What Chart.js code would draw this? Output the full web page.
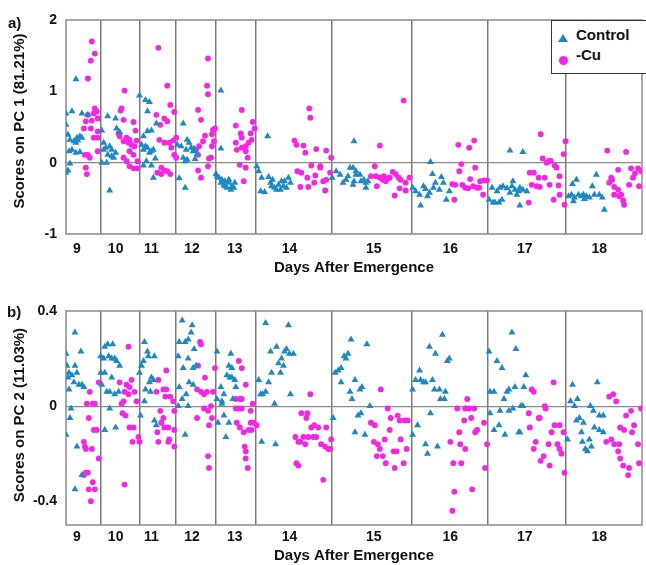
<!DOCTYPE html>
<html>
<head>
<meta charset="utf-8">
<script src="https://cdn.jsdelivr.net/npm/chart.js@4.4.1/dist/chart.umd.min.js"></script>
<style>
  body { margin: 0; background: #fff; width: 646px; height: 565px; overflow: hidden; position: relative;
         font-family: 'Liberation Sans', Arial, sans-serif; font-weight: bold; color: #111; }
  canvas { position: absolute; left: 0; }
  #pcA { top: 0; }
  #pcB { top: 282px; }
  .tag { position: absolute; font-size: 15px; line-height: 15px; }
  .ytitle { position: absolute; font-size: 15px; line-height: 15px; white-space: nowrap;
            transform: translate(-50%, -50%) rotate(-90deg); }
  #legend { position: absolute; left: 551px; top: 20px; width: 110px; height: 52px;
            border: 1.5px solid #333; background: #fff; }
  #legend .txt { position: absolute; left: 24px; font-size: 15px; line-height: 15px; }
  #legend .tri { position: absolute; left: 6px; top: 13px; width: 0; height: 0;
                 border-left: 5px solid transparent; border-right: 5px solid transparent; border-bottom: 8px solid #1a8ac6; }
  #legend .dot { position: absolute; left: 7px; top: 35px; width: 9px; height: 9px; border-radius: 50%; background: #fb22e8; }
</style>
</head>
<body>
<canvas id="pcA" width="646" height="282"></canvas>
<canvas id="pcB" width="646" height="283"></canvas>

<div class="tag" style="left:8px;top:15px">a)</div>
<div class="tag" style="left:7px;top:304px">b)</div>
<div class="ytitle" style="left:18px;top:121px">Scores on PC 1 (81.21%)</div>
<div class="ytitle" style="left:18px;top:415px">Scores on PC 2 (11.03%)</div>
<div id="legend">
  <span class="tri"></span><span class="txt" style="top:6px">Control</span>
  <span class="dot"></span><span class="txt" style="top:26px">-Cu</span>
</div>

<script>
// days after emergence, x axis is the running sample number
const dayNames = ['9', '10', '11', '12', '13', '14', '15', '16', '17', '18'];
const dayLabelAt = [5.5, 25, 43, 63.5, 85, 112.5, 155, 193.5, 231, 268.5];
const dayBreaks = [17.5, 37, 55.5, 75.5, 95.5, 134, 174, 212.5, 251.5];
const sampleRange = [0, 290];

const pc1Range = [-1, 2];
const pc1Ticks = [-1, 0, 1, 2];
const pc2Range = [-0.5, 0.4];
const pc2Ticks = [-0.4, 0, 0.4];

// [sample, score]
const pc1Control = [
  [0,0.69],[3,0.72],[0,0.53],[5,1.17],[8,0.69],[11,0.67],[1,0.39],[2,0.32],[4,0.30],[5.5,0.35],[7,0.37],[8,0.35],[5,0.28],[6,0.31],[1.5,0.16],[3,0.18],[5,0.14],[7,0.15],[2,-0.01],[1,-0.11],[0,-0.14],
  [21,0.65],[25,0.62],[18,0.45],[27,0.43],[19,0.28],[20,0.21],[22,0.23],[23,0.18],[25,0.14],[21,0.11],[23,0.09],[18,0.00],[20.5,0.00],[22,-0.39],[25.5,0.48],[19,0.18],[24,0.07],
  [37,0.94],[40,0.88],[42,0.85],[41,0.72],[45.5,0.55],[41,0.44],[43,0.45],[39,0.37],[38,0.25],[40,0.23],[41,0.21],[43,0.16],[44,0.18],[42,0.14],[39,0.18],[45,0.06],[43,-0.04],[39,-0.04],[44,-0.21],[40.5,0.02],
  [59,0.55],[56,0.25],[58,0.23],[61,0.32],[62,0.28],[60.5,0.18],[63,0.21],[64,0.16],[59,0.07],[61,0.04],[60,0.02],[57,-0.22],[60,-0.35],[64.5,0.20],[66,0.12],[65,0.05],
  [78,1.01],[78,0.20],[75.5,-0.16],[77,-0.21],[78.5,-0.24],[80,-0.26],[82,-0.28],[83.5,-0.33],[79.5,-0.31],[81,-0.35],[83,-0.38],[84.5,-0.35],[78,-0.28],[85,-0.28],[76,-0.19],[80,-0.33],[82,-0.24],
  [101.5,0.37],[96,-0.05],[97,-0.12],[98.5,-0.21],[102,-0.20],[98,-0.40],[100,-0.41],[103.5,-0.33],[105,-0.35],[107,-0.31],[108,-0.38],[109.5,-0.33],[111,-0.35],[112,-0.21],[113,-0.28],[110,-0.26],[106,-0.38],[108.5,-0.26],[103,-0.28],[104,-0.24],
  [134,-0.21],[136,-0.12],[138,-0.17],[139.5,-0.28],[141,-0.24],[143,-0.07],[145,0.30],[146,-0.17],[144.5,-0.31],[144.5,-0.07],[146,-0.12],[148,-0.17],[148.5,-0.26],[150,-0.24],[151,-0.28],[152,-0.26],[145,-0.26],[151,-0.35],[142,-0.19],
  [183.5,0.01],[184.5,-0.16],[174.5,-0.35],[176,-0.40],[178,-0.45],[178.5,-0.60],[180,-0.33],[182,-0.47],[183,-0.42],[185,-0.35],[186,-0.28],[188,-0.38],[189,-0.20],[190,-0.28],[191.5,-0.52],[193,-0.40],[181,-0.37],
  [213,-0.52],[215,-0.56],[216,-0.56],[218,-0.56],[214.5,-0.35],[217,-0.40],[218.5,-0.35],[220,-0.33],[222,-0.36],[223.5,-0.42],[225,-0.26],[226,-0.38],[228,-0.40],[228.5,-0.35],[230,-0.38],[232,-0.40],[228.5,-0.60],[219.5,-0.52],[223.5,0.17],[230,0.15],[227,-0.45],[224.5,-0.33],
  [255,-0.30],[257,-0.24],[267,-0.17],[253,-0.47],[254.5,-0.45],[256,-0.49],[258,-0.45],[259.5,-0.47],[260.5,-0.45],[262,-0.47],[263.5,-0.49],[265,-0.33],[266,-0.45],[268.5,-0.45],[270,-0.49],[271,-0.66],[255.5,-0.54],[261,-0.51]
];
const pc1Cu = [
  [13,1.70],[14.5,1.53],[12.5,1.43],[11,1.18],[14.5,0.76],[15.5,0.72],[14,0.69],[11,0.67],[10,0.58],[13,0.59],[16,0.62],[9,0.48],[12.5,0.48],[16,0.44],[14,0.35],[16,0.35],[9.5,0.11],[11,0.11],[12,0.07],[10,-0.07],[10.5,-0.16],[16,0.16],
  [29.5,1.01],[28,0.76],[27.5,0.73],[29,0.60],[34,0.57],[35,0.45],[26.5,0.41],[27,0.37],[30.5,0.35],[32,0.32],[29,0.30],[31.5,0.28],[33,0.25],[34.5,0.23],[32,0.16],[34,0.11],[29,0.07],[30.5,0.02],[32,-0.05],[34,-0.08],[36,-0.08],[36,0.02],[35.5,0.31],
  [46.5,1.61],[51,1.08],[52.5,0.81],[54.5,0.71],[45.5,0.67],[49.5,0.62],[51,0.58],[47.5,0.53],[47,0.32],[49.5,0.28],[52,0.28],[54,0.31],[55.5,0.35],[53,0.21],[54.5,0.11],[55.5,0.07],[48,-0.07],[49.5,-0.11],[51,-0.12],[52.5,-0.16],[48,-0.16],[46,-0.14],
  [71.5,1.46],[71,1.08],[71.5,0.96],[66.5,0.74],[68,0.60],[70,0.38],[69,0.30],[67,0.23],[65.5,0.18],[66.5,0.11],[66.5,-0.11],[68,-0.21],[72,0.06],[71.5,-0.05],[74,0.46],[74.5,0.30],[73.5,0.23],[73,0.07],[73.5,0.40],[75,0.48],
  [88.5,0.74],[94,0.57],[95,0.48],[85.5,0.52],[88,0.41],[88.5,0.35],[93,0.41],[93.5,0.32],[92,0.28],[90.5,0.23],[86,0.18],[88.5,0.21],[91.5,0.07],[87.5,-0.03],[90.5,-0.07],[89.5,-0.26],[85.5,0.28],[90.5,0.16],
  [122.5,0.76],[123,0.63],[115,0.31],[116,0.25],[119.5,0.24],[120.5,0.14],[126,0.19],[131,0.17],[133.5,0.07],[123.5,-0.04],[128,-0.05],[116.5,-0.12],[118.5,-0.14],[121.5,-0.21],[125.5,-0.18],[129.5,-0.26],[131,-0.24],[118,-0.34],[122,-0.34],[125,-0.28],[130.5,-0.39],[128,-0.07],[133,-0.14],
  [170,0.87],[158,0.24],[155.5,-0.05],[153.5,-0.19],[156,-0.19],[158,-0.21],[159.5,-0.24],[161,-0.26],[163,-0.21],[164.5,-0.13],[166,-0.16],[167.5,-0.21],[168.5,-0.24],[171,-0.28],[173,-0.21],[156.5,-0.33],[165.5,-0.46],[168,-0.36],[171,-0.39],[162,-0.22],[160,-0.19],
  [197.5,0.25],[205.5,0.31],[203,0.21],[199,-0.02],[206,-0.07],[198,-0.12],[203.5,-0.23],[194.5,-0.30],[196,-0.31],[199.5,-0.31],[201,-0.35],[202.5,-0.36],[205,-0.33],[207,-0.35],[208.5,-0.26],[210.5,-0.25],[212,-0.25],[210,-0.45],[195.5,-0.52],[208,-0.35],
  [239,0.40],[251.5,0.30],[250.5,0.12],[240,0.06],[243,0.02],[244,0.03],[246,-0.04],[247,-0.07],[233.5,-0.14],[235.5,-0.14],[238,-0.21],[241,-0.21],[237,-0.33],[238.5,-0.34],[243.5,-0.31],[248,-0.32],[248.5,-0.19],[234.5,-0.31],[245.5,-0.52],[248.5,-0.45],[251,-0.59],[233,-0.56],[242,0.00],
  [272.5,0.17],[282,0.15],[278,-0.10],[284.5,-0.08],[288,-0.08],[274.5,-0.21],[275,-0.24],[273.5,-0.28],[276,-0.34],[278,-0.38],[279.5,-0.45],[280.5,-0.53],[281,-0.59],[283.5,-0.31],[285.5,-0.21],[288.5,-0.33],[276,-0.45],[278.5,-0.47],[289.5,-0.12],[286.5,-0.15]
];
const pc2Control = [
  [0,0.22],[4.5,0.31],[7.5,0.23],[0.5,0.17],[4.5,0.17],[1.5,0.14],[3,0.13],[5.5,0.14],[1,0.12],[4,0.10],[6.5,0.09],[8,0.09],[1.5,0.07],[9,0.08],[2.5,-0.01],[2,-0.05],[0,-0.12],[5.5,-0.17],[8,-0.29],[4.5,-0.35],
  [19.5,0.25],[21,0.26],[23.5,0.26],[17.5,0.21],[19,0.20],[21.5,0.21],[23,0.20],[24.5,0.20],[25.5,0.19],[27,0.17],[17.5,0.14],[19.5,0.14],[18,0.09],[23,0.12],[20.5,0.06],[22,0.06],[24.5,0.05],[26.5,0.06],[22,-0.01],[19.5,-0.10],[25,-0.09],
  [39.5,0.27],[41,0.23],[41.5,0.21],[44.5,0.21],[39,0.19],[38,0.17],[37,0.14],[43,0.12],[42,0.10],[44,0.11],[42.5,0.06],[39.5,0.02],[37.5,-0.04],[44.5,-0.06],[45.5,-0.08],[40,0.07],
  [58.5,0.36],[63.5,0.34],[57,0.27],[60,0.27],[61.5,0.28],[63,0.31],[56.5,0.21],[61.5,0.20],[64.5,0.24],[65.5,0.17],[59,0.16],[64,0.16],[57,0.08],[62,0.10],[64,0.09],[60.5,0.05],[58.5,0.03],[61.5,0.00],[56.5,0.00],[60,-0.12],
  [76,0.23],[83,0.22],[82,0.17],[83.5,0.16],[81,0.13],[82.5,0.12],[83.5,0.12],[85,0.11],[85.5,0.08],[78,0.08],[79.5,0.05],[76,0.03],[78.5,0.02],[84,0.03],[78.5,0.01],[76.5,-0.07],[79.5,-0.04],[82,-0.07],[80.5,-0.13],
  [100.5,0.35],[112,0.34],[97,0.11],[102,0.10],[103.5,0.14],[108,0.14],[103,0.23],[106,0.25],[111,0.24],[110,0.23],[112.5,0.22],[114.5,0.22],[108.5,0.20],[107,0.18],[109.5,0.17],[99,0.05],[100.5,0.06],[98,0.05],[113,0.05],[105,0.01],[98.5,-0.15],[105.5,-0.16],
  [135.5,0.14],[137,0.15],[138.5,0.16],[140,0.21],[141,0.20],[142,0.22],[143.5,0.28],[151.5,0.26],[138.5,0.10],[143,0.06],[144,0.03],[145.5,0.11],[148,0.07],[149,0.08],[153,0.00],[147,-0.04],[148.5,-0.03],[145.5,-0.11],[150.5,-0.12],[134.5,-0.05],
  [189.5,0.30],[183,0.25],[186,0.22],[192,0.19],[193,0.20],[178,0.15],[176,0.11],[174.5,0.07],[178.5,0.11],[180,0.10],[181,0.10],[184.5,0.11],[185.5,0.07],[188,0.07],[191,0.06],[188.5,0.03],[190.5,0.03],[183.5,-0.03],[177,-0.08],[174.5,-0.12],[181,-0.16],[182,-0.20],[187,-0.17],
  [224.5,0.31],[226.5,0.24],[213,0.23],[217,0.19],[219.5,0.16],[231.5,0.13],[213.5,0.06],[215.5,0.06],[223,0.07],[226,0.08],[230.5,0.08],[222,0.06],[220.5,0.03],[229,0.00],[230,0.00],[213.5,-0.03],[218.5,-0.02],[223,-0.02],[225,-0.01],[218,-0.08],[215.5,-0.10],[221,-0.12],[228,-0.11],[228.5,-0.11],
  [255,0.09],[267.5,0.10],[254,0.02],[257.5,0.03],[256,0.00],[264,0.00],[265.5,-0.02],[268.5,-0.04],[270.5,-0.04],[258.5,-0.05],[257,-0.06],[260.5,-0.07],[266,-0.09],[268.5,-0.10],[270.5,-0.11],[252.5,-0.14],[259.5,-0.11],[260,-0.15],[263.5,-0.14],[264.5,-0.17],[261.5,-0.18],[262.5,-0.19]
];
const pc2Cu = [
  [12,0.06],[10.5,0.01],[13.5,0.01],[14.5,0.01],[16.5,0.10],[11.5,-0.05],[14,-0.10],[15.5,-0.10],[16.5,-0.22],[9,-0.15],[9.5,-0.17],[10,-0.18],[13,-0.18],[9,-0.29],[10,-0.28],[11,-0.28],[13.5,-0.32],[11.5,-0.35],[14.5,-0.35],[12.5,-0.40],
  [31.5,0.25],[27,0.10],[29,0.02],[30.5,0.09],[32,0.08],[33,0.11],[34.5,0.06],[35.5,0.02],[31.5,0.05],[29.5,0.06],[28,0.01],[28.5,-0.03],[30,-0.04],[32,-0.09],[34,-0.09],[33.5,-0.15],[36.5,-0.13],[37,-0.15],[29.5,-0.33],
  [50.5,0.15],[46.5,0.11],[49,0.07],[50.5,0.07],[45.5,0.06],[50,0.04],[52.5,0.04],[54,0.02],[47.5,-0.02],[54.5,-0.02],[49,-0.05],[48,-0.07],[51.5,-0.09],[54.5,-0.10],[46,-0.11],[49.5,-0.09],[52,-0.14],[51.5,-0.15],[46.5,-0.15],[54.5,-0.17],
  [67.5,0.27],[68,0.26],[66.5,0.17],[70,0.12],[66,0.07],[68,0.06],[69.5,0.05],[71,0.06],[69.5,-0.01],[71.5,-0.02],[66,-0.05],[71.5,-0.21],[72,-0.26],[75,0.16],[74,0.06],[73,0.00],[73.5,-0.05],[72,-0.08],
  [87,0.19],[88.5,0.16],[90.5,0.09],[85.5,0.03],[87.5,0.03],[88.5,0.03],[88.5,-0.01],[85.5,-0.01],[87,-0.01],[93,-0.02],[94,0.01],[93,-0.07],[94.5,-0.07],[86,-0.07],[87.5,-0.09],[89.5,-0.11],[92,-0.10],[93.5,-0.10],[90,-0.17],[90.5,-0.19],[90.5,-0.22],[91.5,-0.26],[96,-0.08],
  [123,0.05],[118.5,-0.03],[121.5,-0.03],[121,-0.05],[125,-0.08],[123.5,-0.09],[127,-0.09],[131,-0.09],[115.5,-0.13],[119.5,-0.13],[122,-0.13],[124.5,-0.13],[126,-0.13],[118,-0.15],[117,-0.15],[120.5,-0.16],[128.5,-0.16],[130.5,-0.17],[132,-0.18],[133,-0.18],[116,-0.24],[117,-0.25],[129.5,-0.31],[133.5,-0.14],
  [158.5,0.07],[162,-0.01],[167,-0.04],[168,-0.06],[170.5,-0.06],[172,-0.06],[153.5,-0.07],[155.5,-0.08],[163.5,-0.05],[163,-0.10],[168.5,-0.14],[155,-0.15],[157,-0.16],[160.5,-0.14],[158,-0.18],[156.5,-0.21],[159.5,-0.21],[161,-0.24],[165,-0.19],[166.5,-0.19],[165.5,-0.26],[170,-0.24],[171.5,-0.18],
  [197,-0.01],[201,-0.01],[203,-0.01],[205.5,-0.01],[202,0.03],[200.5,-0.06],[204,-0.05],[207,-0.10],[206,-0.11],[210.5,-0.07],[212,-0.16],[193.5,-0.15],[198,-0.11],[198.5,-0.16],[201,-0.18],[195,-0.24],[199,-0.24],[211,-0.26],[195.5,-0.36],[204.5,-0.35],[194.5,-0.44],
  [245.5,0.10],[234.5,0.07],[235.5,0.06],[241,0.00],[241.5,-0.01],[233,-0.03],[238,-0.05],[238.5,-0.05],[233.5,-0.09],[246,-0.08],[248.5,-0.08],[244.5,-0.11],[250.5,-0.11],[236.5,-0.15],[243,-0.16],[247.5,-0.16],[248.5,-0.18],[249.5,-0.20],[240.5,-0.21],[235.5,-0.18],[239,-0.23],[243.5,-0.25],[251,-0.28],
  [273.5,0.04],[275.5,0.05],[277,0.02],[284.5,-0.02],[282,-0.04],[286,-0.08],[279,-0.09],[281,-0.10],[285,-0.11],[274.5,-0.14],[272,-0.15],[276,-0.16],[278.5,-0.16],[278,-0.19],[279,-0.22],[280.5,-0.25],[283.5,-0.26],[283,-0.29],[288.5,-0.24],[288,-0.16],[289.5,-0.01]
];

const BLUE = '#1a8ac6';
const PINK = '#fb22e8';
const HIDDEN = 'rgba(0,0,0,0)';

Chart.defaults.font.family = "'Liberation Sans', Arial, sans-serif";
Chart.defaults.color = '#111';

// grey box round the plot area
const frame = {
  id: 'frame',
  beforeDatasetsDraw(chart) {
    const { ctx, chartArea: a } = chart;
    ctx.save();
    ctx.strokeStyle = '#8c8c8c';
    ctx.lineWidth = 1.5;
    ctx.strokeRect(a.left, a.top, a.right - a.left, a.bottom - a.top);
    ctx.restore();
  }
};

function toXY(list) {
  return list.map(p => ({ x: p[0], y: p[1] }));
}

function makePanel(id, control, cu, yRange, yTicks, lay) {
  return new Chart(document.getElementById(id), {
    type: 'scatter',
    data: {
      datasets: [
        { label: 'Control', data: toXY(control), pointStyle: 'triangle', pointRadius: 4,
          backgroundColor: BLUE, borderWidth: 0 },
        { label: '-Cu', data: toXY(cu), pointStyle: 'circle', pointRadius: 2.9,
          backgroundColor: PINK, borderWidth: 0 }
      ]
    },
    options: {
      responsive: false,
      animation: false,
      events: [],
      layout: { padding: { top: lay.top, bottom: lay.bottom, left: 0, right: 0 } },
      plugins: { legend: { display: false }, tooltip: { enabled: false } },
      scales: {
        x: {
          type: 'linear',
          min: sampleRange[0],
          max: sampleRange[1],
          afterBuildTicks: s => {
            s.ticks = [...dayBreaks, ...dayLabelAt].sort((a, b) => a - b).map(v => ({ value: v }));
          },
          afterFit: s => { s.height = lay.xh; },
          border: { display: false },
          grid: {
            color: c => (c.tick && dayBreaks.includes(c.tick.value)) ? '#7a7a7a' : HIDDEN,
            lineWidth: 1.5,
            drawTicks: false
          },
          ticks: {
            autoSkip: false,
            maxRotation: 0,
            padding: lay.tickPad,
            font: { size: 14, weight: 'bold' },
            callback: v => {
              const i = dayLabelAt.indexOf(v);
              return i < 0 ? '' : dayNames[i];
            }
          },
          title: {
            display: true,
            text: 'Days After Emergence',
            font: { size: 15, weight: 'bold' },
            padding: { top: 0, bottom: 0 }
          }
        },
        y: {
          min: yRange[0],
          max: yRange[1],
          afterBuildTicks: s => { s.ticks = yTicks.map(v => ({ value: v })); },
          afterFit: s => { s.width = 66; },
          border: { display: false },
          grid: {
            color: c => (c.tick && c.tick.value === 0) ? '#8a8a8a' : HIDDEN,
            lineWidth: 1.2,
            drawTicks: false
          },
          ticks: {
            padding: 9,
            font: { size: 14, weight: 'bold' },
            callback: v => String(v)
          }
        }
      }
    },
    plugins: [frame]
  });
}

makePanel('pcA', pc1Control, pc1Cu, pc1Range, pc1Ticks, { top: 20, bottom: 5, xh: 43, tickPad: 7 });
makePanel('pcB', pc2Control, pc2Cu, pc2Range, pc2Ticks, { top: 29, bottom: 0, xh: 40, tickPad: 4 });
</script>
</body>
</html>
